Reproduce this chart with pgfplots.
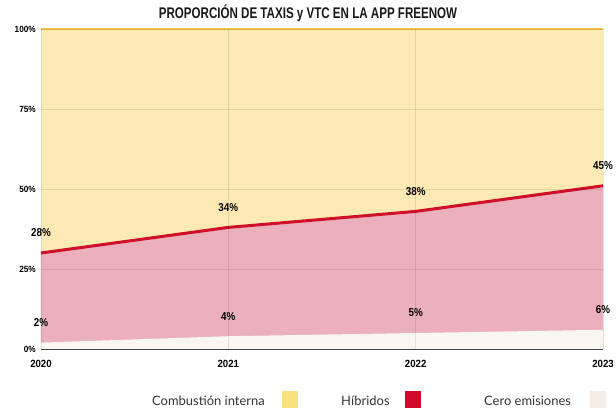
\documentclass[border=0pt]{standalone}
\usepackage{pgfplots}
\pgfplotsset{compat=1.18}
\usepackage{fontspec}
\setmainfont{Liberation Sans}
\newfontfamily\titlefont[FakeStretch=0.75]{Liberation Sans}
\newfontfamily\tickfont[FakeStretch=0.92]{Liberation Sans}
\newfontfamily\labfont[FakeStretch=0.86]{Liberation Sans}
\newfontfamily\legfont{Lato}
\definecolor{cyel}{HTML}{FDE9B3}
\definecolor{cpink}{HTML}{EBB0BB}
\definecolor{cred}{HTML}{D0102B}
\definecolor{cbeige}{HTML}{F9F6F2}
\definecolor{ctop}{HTML}{F6C445}
\definecolor{lyel}{HTML}{F9E07F}
\definecolor{lred}{HTML}{D0092B}
\definecolor{lbeige}{HTML}{F3ECE7}
\definecolor{ltext}{HTML}{333333}
\begin{document}
\begin{tikzpicture}
\useasboundingbox (-41bp,-59bp) rectangle (575bp,349bp);
\begin{axis}[
  at={(0,0)}, anchor=south west,
  width=562bp, height=320bp, scale only axis,
  xmin=2020, xmax=2023, ymin=0, ymax=100,
  clip=false,
  axis on top,
  axis line style={draw=none},
  tick style={draw=none},
  xtick={2020,2021,2022,2023},
  xticklabels={2020,2021,2022,2023},
  ytick={0,25,50,75,100},
  yticklabels={0\%,25\%,50\%,75\%,100\%},
  grid=major,
  major grid style={black, opacity=0.09, line width=0.9bp},
  /pgf/number format/assume math mode=true,
  yticklabel style={font=\tickfont\bfseries\fontsize{9}{10}\selectfont, inner sep=0pt, anchor=east, xshift=-5bp},
  xticklabel style={font=\tickfont\bfseries\fontsize{10.5}{11}\selectfont, inner sep=0pt, anchor=north, yshift=-11bp},
]
\addplot[fill=cyel, draw=none] coordinates {(2020,100) (2023,100)} \closedcycle;
\addplot[fill=cpink, draw=none] coordinates {(2020,30) (2021,38) (2022,43) (2023,51)} \closedcycle;
\addplot[fill=cbeige, draw=none] coordinates {(2020,2) (2021,4) (2022,5) (2023,6)} \closedcycle;
\addplot[ctop, line width=1.5bp] coordinates {(2020,100) (2023,100)};
\addplot[cred, line width=3bp] coordinates {(2020,30) (2021,38) (2022,43) (2023,51)};
\addplot[black!70, line width=1bp] coordinates {(2020,0) (2023,0)};
\addplot[draw=none, mark=none, point meta=explicit symbolic,
  nodes near coords={\pgfplotspointmeta\%},
  nodes near coords style={font=\labfont\bfseries\fontsize{11.5}{12}\selectfont, text=black, anchor=center, yshift=20bp, inner sep=0pt}]
  coordinates {(2020,30) [28] (2021,38) [34] (2022,43) [38] (2023,51) [45]};
\addplot[draw=none, mark=none, point meta=explicit symbolic,
  nodes near coords={\pgfplotspointmeta\%},
  nodes near coords style={font=\labfont\bfseries\fontsize{11.5}{12}\selectfont, text=black, anchor=center, yshift=20bp, inner sep=0pt}]
  coordinates {(2020,2) [2] (2021,4) [4] (2022,5) [5] (2023,6) [6]};
\end{axis}
\node[font=\titlefont\bfseries\fontsize{15.5}{16}\selectfont, text=black!90, inner sep=0pt] at (267bp,336bp) {PROPORCIÓN DE TAXIS y VTC EN LA APP FREENOW};
\node[anchor=base west, font=\legfont\fontsize{13}{15}\selectfont, text=ltext, inner sep=0pt] at (111bp,-56bp) {Combustión interna};
\fill[lyel] (241bp,-42bp) rectangle (257bp,-59bp);
\node[anchor=base west, font=\legfont\fontsize{13}{15}\selectfont, text=ltext, inner sep=0pt] at (300bp,-56bp) {Híbridos};
\fill[lred] (364bp,-42bp) rectangle (380bp,-59bp);
\node[anchor=base west, font=\legfont\fontsize{13}{15}\selectfont, text=ltext, inner sep=0pt] at (443bp,-56bp) {Cero emisiones};
\fill[lbeige] (549bp,-42bp) rectangle (565bp,-59bp);
\end{tikzpicture}
\end{document}
